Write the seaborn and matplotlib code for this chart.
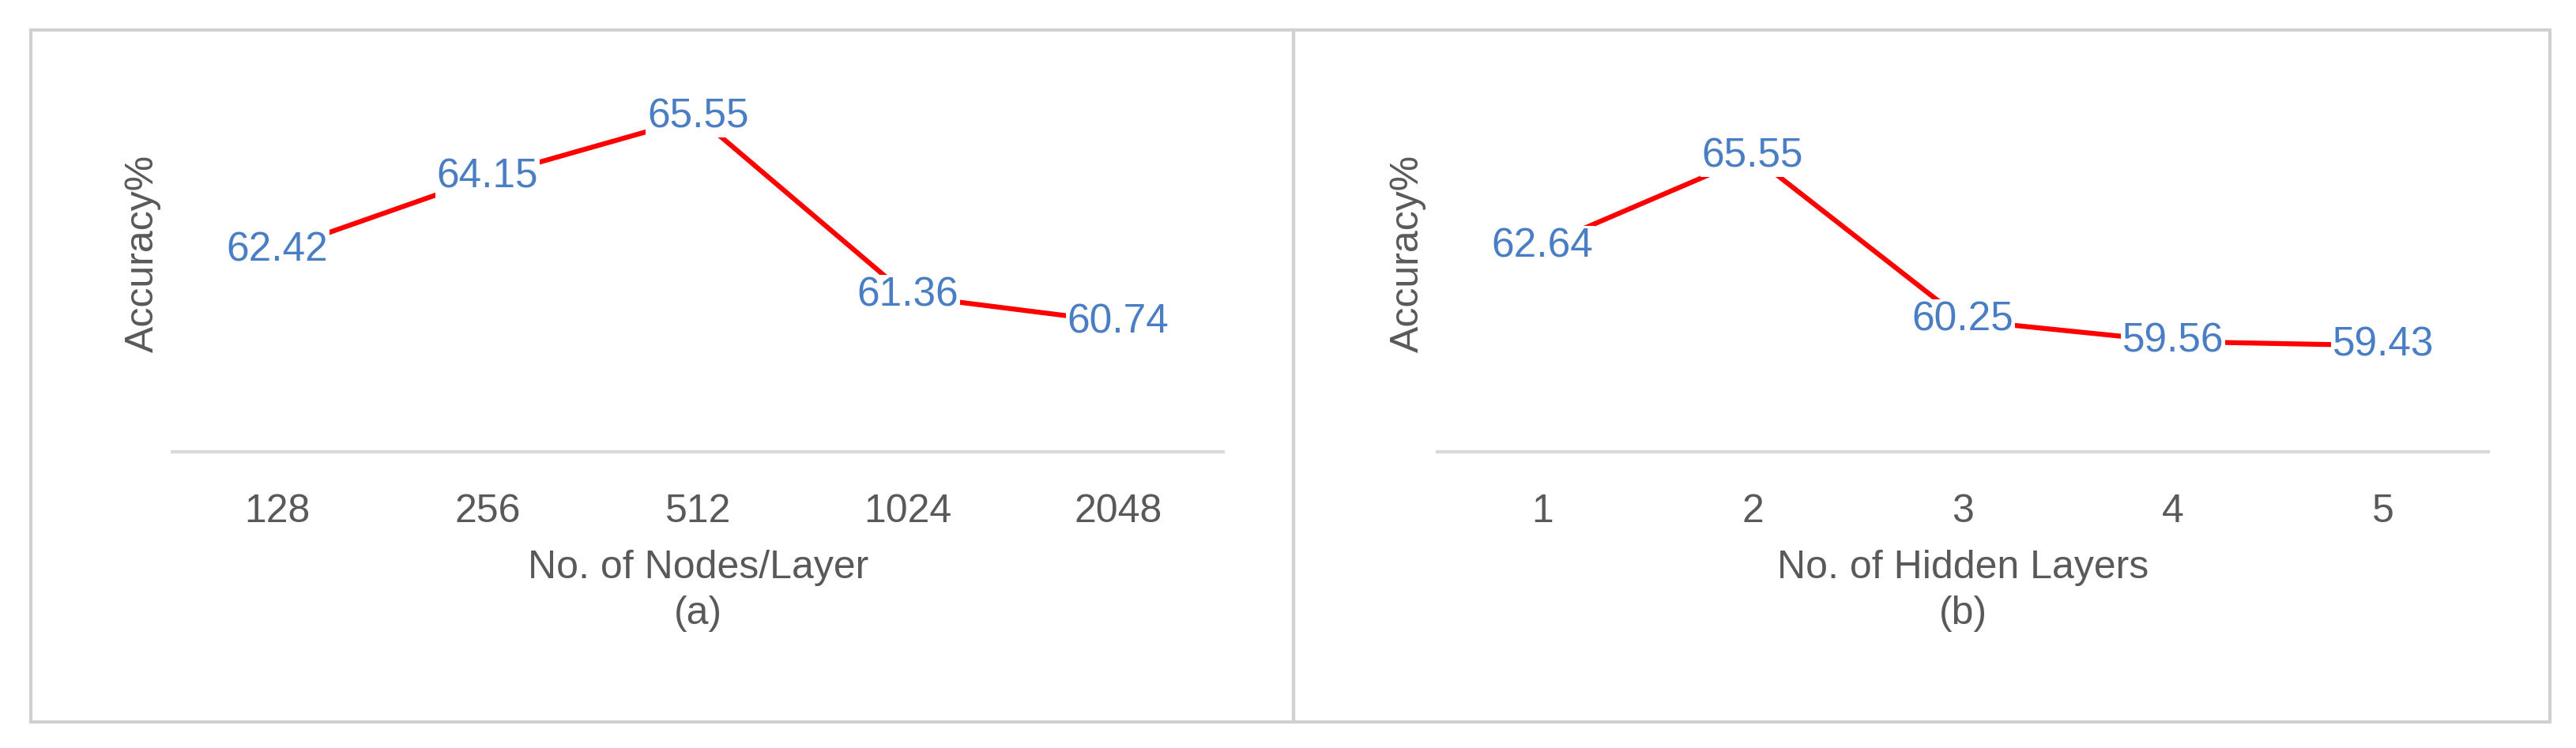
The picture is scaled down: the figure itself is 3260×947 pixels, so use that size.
import numpy as np
import pandas as pd
import matplotlib.pyplot as plt
import seaborn as sns
from matplotlib.patches import Rectangle

nodes = ['128', '256', '512', '1024', '2048']
acc_nodes = [62.42, 64.15, 65.55, 61.36, 60.74]
layers = ['1', '2', '3', '4', '5']
acc_layers = [62.64, 65.55, 60.25, 59.56, 59.43]

sns.set_theme(style='white')
plt.rcParams['font.family'] = ['Liberation Sans', 'DejaVu Sans']

fig = plt.figure(figsize=(32.6, 9.47), dpi=100)

# panel frames
for x0, w in [(0.012, 0.49), (0.502, 0.488)]:
    fig.patches.append(Rectangle((x0, 0.035), w, 0.925, transform=fig.transFigure,
                                 fill=False, edgecolor='#d0d0d0', linewidth=3))

panels = [
    (nodes, acc_nodes, 'No. of Nodes/Layer', '(a)', [0.0669, 0.396, 0.408, 0.53], (57.7, 67.0)),
    (layers, acc_layers, 'No. of Hidden Layers', '(b)', [0.558, 0.396, 0.408, 0.53], (56.0, 68.8)),
]

tick_col = '#595959'
lab_col = '#4a7ec4'

for cats, vals, xlabel, tag, pos, ylim in panels:
    ax = fig.add_axes(pos)
    df = pd.DataFrame({'x': np.arange(len(cats)), 'acc': vals})
    sns.lineplot(data=df, x='x', y='acc', ax=ax, color='#ff0000', linewidth=4.5, sort=False)
    for xi, v in zip(df['x'], vals):
        ax.text(xi, v, f'{v:.2f}', ha='center', va='center', fontsize=37, color=lab_col,
                bbox=dict(facecolor='white', edgecolor='none', pad=1), zorder=5)
    ax.set_xlim(-0.5, len(cats) - 0.5)
    ax.set_ylim(*ylim)
    ax.set_yticks([])
    ax.set_xticks(df['x'])
    ax.set_xticklabels(cats, fontsize=36, color=tick_col)
    ax.tick_params(axis='x', length=0, pad=38)
    ax.set_xlabel(f'{xlabel}\n{tag}', fontsize=36, color=tick_col, labelpad=18, linespacing=1.35)
    ax.set_ylabel('Accuracy%', fontsize=36, color=tick_col, labelpad=10)
    for s in ['top', 'right', 'left']:
        ax.spines[s].set_visible(False)
    ax.spines['bottom'].set_color('#d9d9d9')
    ax.spines['bottom'].set_linewidth(3)

fig.savefig('out.png', dpi=100, facecolor='white')
